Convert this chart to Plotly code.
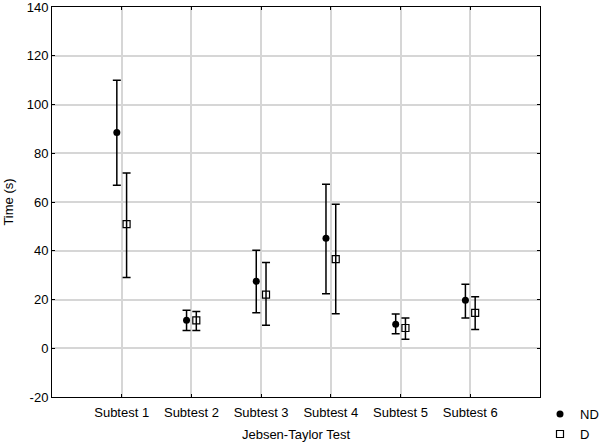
import plotly.graph_objects as go

subtests = ['Subtest 1', 'Subtest 2', 'Subtest 3', 'Subtest 4', 'Subtest 5', 'Subtest 6']

nd_mean = [88.5, 11.5, 27.5, 45.1, 9.8, 19.7]
nd_upper = [109.9, 15.6, 40.2, 67.3, 14.1, 26.3]
nd_lower = [66.9, 7.3, 14.6, 22.4, 6.0, 12.4]

d_mean = [50.9, 11.4, 22.0, 36.6, 8.3, 14.5]
d_upper = [71.9, 15.1, 35.2, 59.1, 12.4, 21.1]
d_lower = [29.0, 7.3, 9.4, 14.2, 3.7, 7.7]

y_ticks = [-20, 0, 20, 40, 60, 80, 100, 120, 140]
y_labels = ['-20', '0', '20', '40', '60', '80', '100', '120', '140']

font = 'Liberation Sans, Arial, sans-serif'


def err(mean, upper, lower):
    return dict(type='data', symmetric=False,
                array=[u - m for u, m in zip(upper, mean)],
                arrayminus=[m - l for m, l in zip(mean, lower)],
                color='black', thickness=1.5, width=4)


fig = go.Figure()
fig.add_trace(go.Scatter(x=subtests, y=nd_mean, name='ND', mode='markers',
                         marker=dict(symbol='circle', color='black', size=7),
                         error_y=err(nd_mean, nd_upper, nd_lower)))
fig.add_trace(go.Scatter(x=subtests, y=d_mean, name='D', mode='markers',
                         marker=dict(symbol='square-open', color='black', size=7,
                                     line=dict(width=1.2, color='black')),
                         error_y=err(d_mean, d_upper, d_lower)))

axis_common = dict(showline=True, linecolor='black', linewidth=1, mirror='ticks',
                   ticks='inside', ticklen=3, tickcolor='black', automargin=False,
                   ticklabeloverflow='allow',
                   showgrid=True, gridcolor='#d6d6d6', gridwidth=1.5, zeroline=False,
                   tickfont=dict(family=font, size=13, color='black'))

fig.update_layout(
    width=600, height=443,
    margin=dict(l=52, r=60, t=7, b=46),
    paper_bgcolor='white', plot_bgcolor='white',
    scattermode='group', scattergap=0.72,
    font=dict(family=font, size=13, color='black'),
    xaxis=dict(axis_common, type='category', range=[-1, 6], ticklabelstandoff=3,
               title=dict(text='Jebsen-Taylor Test', standoff=11,
                          font=dict(family=font, size=13, color='black'))),
    yaxis=dict(axis_common, range=[-20, 140], tickvals=y_ticks, ticktext=y_labels,
               title=dict(text='Time (s)', standoff=10,
                          font=dict(family=font, size=13, color='black'))),
    legend=dict(xref='container', yref='container', x=0.9, y=0.099,
                xanchor='left', yanchor='top',
                font=dict(family=font, size=13, color='black'), itemwidth=30,
                tracegroupgap=0, bgcolor='rgba(0,0,0,0)'),
)

# drop the default 8px body margin so the 600x443 figure fills the window
fig.write_html('out.html', config={'displayModeBar': False},
               post_script="document.body.style.margin='0';")
